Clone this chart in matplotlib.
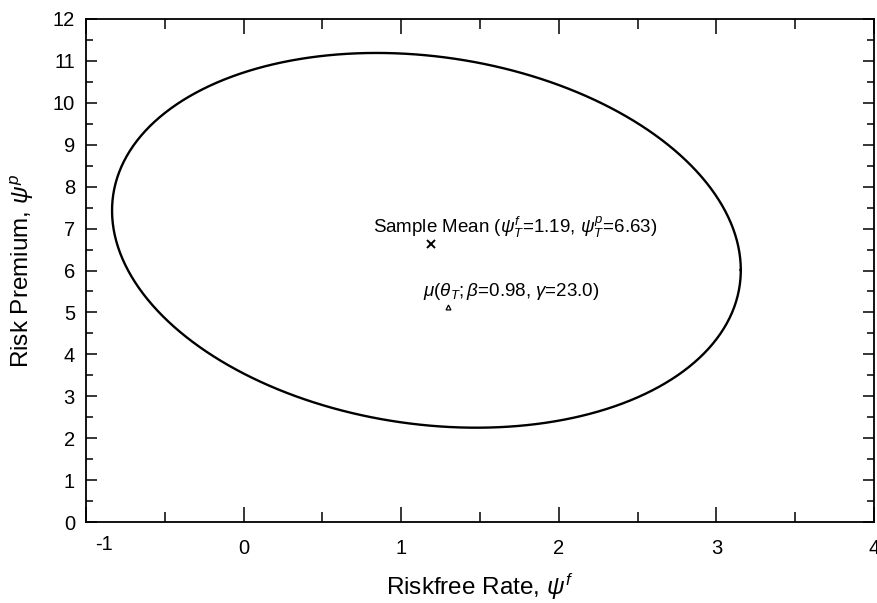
import numpy as np
import matplotlib
matplotlib.use("Agg")
import matplotlib.pyplot as plt
from matplotlib.ticker import MultipleLocator

plt.rcParams["font.family"] = ["Liberation Sans", "DejaVu Sans"]
plt.rcParams["mathtext.fontset"] = "custom"
plt.rcParams["mathtext.rm"] = "Liberation Sans"
plt.rcParams["mathtext.it"] = "Liberation Sans:italic"

# Ellipse: centre and covariance-like shape
ELL_CENTER = (1.16, 6.72)
ELL_SXX = 3.98
ELL_SYY = 19.98
ELL_SXY = -1.415

SAMPLE_MEAN = (1.19, 6.63)
MODEL_MEAN = (1.30, 5.13)

X_TICKS = [-1, 0, 1, 2, 3, 4]
Y_TICKS = list(range(0, 13))

# Ellipse outline from the shape matrix
t = np.linspace(0, 2 * np.pi, 400)
cov = np.array([[ELL_SXX, ELL_SXY], [ELL_SXY, ELL_SYY]])
L = np.linalg.cholesky(cov)
circ = np.vstack([np.cos(t), np.sin(t)])
pts = L @ circ
ex = ELL_CENTER[0] + pts[0]
ey = ELL_CENTER[1] + pts[1]

fig = plt.figure(figsize=(8.78, 6.03), dpi=100)
ax = fig.add_axes([0.098, 0.1343, 0.8974, 0.8342])

ax.plot(ex, ey, color="black", lw=1.7)
ax.plot(*SAMPLE_MEAN, marker="x", color="black", ms=6, mew=1.4)
ax.plot(*MODEL_MEAN, marker="^", color="black", ms=3.5, mfc="white", mew=0.9)

ax.text(0.82, 7.02, r"Sample Mean ($\psi^f_T$=1.19, $\psi^p_T$=6.63)",
        fontsize=13.5, ha="left", va="center")
ax.text(1.14, 5.49, r"$\mu(\theta_T;\beta$=0.98, $\gamma$=23.0)",
        fontsize=13.5, ha="left", va="center")

ax.set_xlim(-1, 4)
ax.set_ylim(0, 12)
ax.set_xticks(X_TICKS)
ax.set_xticklabels([""] + [str(v) for v in X_TICKS[1:]])
ax.set_yticks(Y_TICKS)
ax.xaxis.set_minor_locator(MultipleLocator(0.5))
ax.yaxis.set_minor_locator(MultipleLocator(0.5))
ax.tick_params(which="both", direction="in", top=True, right=True,
               labelsize=14.5, width=1.1)
ax.tick_params(axis="x", which="major", length=11, pad=12)
ax.tick_params(axis="x", which="minor", length=7)
ax.tick_params(axis="y", which="major", length=8, pad=8)
ax.tick_params(axis="y", which="minor", length=5)

# "-1" label sits a bit right of the left spine in the original
ax.annotate(str(X_TICKS[0]), xy=(X_TICKS[0], 0), xycoords=("data", "axes fraction"),
            xytext=(18, -22), textcoords="offset pixels",
            ha="center", va="center", fontsize=14.5)

for s in ax.spines.values():
    s.set_linewidth(1.3)

ax.set_xlabel(r"Riskfree Rate, $\psi^f$", fontsize=17.5, labelpad=10)
ax.set_ylabel(r"Risk Premium, $\psi^p$", fontsize=17.5, labelpad=12)

fig.savefig("out.png", dpi=100, facecolor="white")
